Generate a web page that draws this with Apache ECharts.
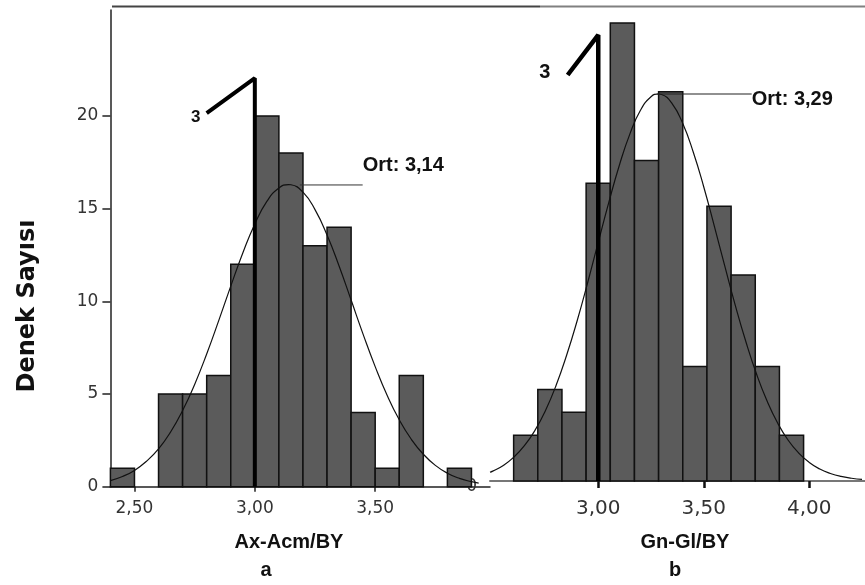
<!DOCTYPE html>
<html>
<head>
<meta charset="utf-8">
<script src="https://cdn.jsdelivr.net/npm/echarts@6/dist/echarts.min.js"></script>
<style>html,body{margin:0;padding:0;background:#fff}#c{width:865px;height:585px}</style>
</head>
<body>
<div id="c"></div>
<script>
// ---- Panel a: Ax-Acm/BY ----
const binStartA = [2.4, 2.5, 2.6, 2.7, 2.8, 2.9, 3.0, 3.1, 3.2, 3.3, 3.4, 3.5, 3.6, 3.7, 3.8];
const countsA   = [1, 0, 5, 5, 6, 12, 20, 18, 13, 14, 4, 1, 6, 0, 1];
const binWidthA = 0.1;
const curveXA = [2.40,2.45,2.50,2.55,2.60,2.65,2.70,2.75,2.80,2.85,2.90,2.95,3.00,3.05,3.10,3.14,3.15,3.20,3.25,3.30,3.35,3.40,3.45,3.50,3.55,3.60,3.65,3.70,3.75,3.80,3.85,3.90,3.93];
const curveYA = [0.33,0.55,0.88,1.37,2.04,2.95,4.11,5.52,7.16,8.96,10.82,12.61,14.18,15.39,16.12,16.30,16.29,15.89,14.95,13.58,11.91,10.07,8.22,6.48,4.92,3.61,2.56,1.75,1.15,0.73,0.45,0.27,0.19];
const meanLabelA = 'Ort: 3,14';
const xTicksA = [2.5, 3.0, 3.5];
const yTicksA = [0, 5, 10, 15, 20];
const refLineA = [[2.80, 20.15], [3.0, 22.04], [3.0, 0]];
const refLabelA = [2.755, 19.95];
const ortLineA = [[3.187, 16.28], [3.448, 16.28]];

// ---- Panel b: Gn-Gl/BY ----
const binStartB = [2.599, 2.7135, 2.828, 2.9425, 3.057, 3.1715, 3.286, 3.4005, 3.515, 3.6295, 3.744, 3.8585];
const countsB   = [2, 4, 3, 13, 20, 14, 17, 5, 12, 9, 5, 2];
const binWidthB = 0.1145;
const curveXB = [2.487,2.50,2.55,2.60,2.65,2.70,2.75,2.80,2.85,2.90,2.95,3.00,3.05,3.10,3.15,3.20,3.25,3.285,3.30,3.35,3.40,3.45,3.50,3.55,3.60,3.65,3.70,3.75,3.80,3.85,3.90,3.95,4.00,4.05,4.10,4.15,4.20,4.25];
const curveYB = [0.38,0.43,0.68,1.04,1.54,2.21,3.08,4.17,5.49,7.00,8.67,10.43,12.17,13.79,15.16,16.19,16.78,16.90,16.88,16.48,15.62,14.37,12.84,11.13,9.37,7.65,6.07,4.67,3.49,2.53,1.78,1.22,0.81,0.52,0.33,0.20,0.12,0.07];
const meanLabelB = 'Ort: 3,29';
const xTicksB = [3.0, 3.5, 4.0];
const yTicksB = [0];
const refLineB = [[2.855, 17.73], [3.0, 19.48], [3.0, 0]];
const refLabelB = [2.747, 17.84];
const ortLineB = [[3.277, 16.9], [3.727, 16.9]];

const fmt = v => v.toFixed(2).replace('.', ',');
const tickFont = 'DejaVu Sans';
const boldFont = 'Liberation Sans';

function histRender(params, api) {
  const x0 = api.value(0), x1 = api.value(1), y = api.value(2);
  if (!y) return null;
  const p0 = api.coord([x0, 0]);
  const p1 = api.coord([x1, y]);
  return {
    type: 'rect',
    shape: { x: p0[0], y: p1[1], width: p1[0] - p0[0], height: p0[1] - p1[1] },
    style: { fill: '#5b5b5b', stroke: '#111', lineWidth: 1.5 }
  };
}

function textSeries(xi, yi, point, text, size, offset) {
  return {
    type: 'scatter', xAxisIndex: xi, yAxisIndex: yi, symbolSize: 0, z: 5,
    itemStyle: { opacity: 1 },
    data: [point],
    label: Object.assign({ show: true, formatter: text, opacity: 1,
      fontFamily: boldFont, fontWeight: 'bold', fontSize: size, color: '#111' }, offset)
  };
}

const chart = echarts.init(document.getElementById('c'), null, { renderer: 'canvas' });
chart.setOption({
  animation: false,
  backgroundColor: '#fff',
  grid: [
    { left: 110.4, right: 375, top: 10, bottom: 98.3 },
    { left: 490, right: 0, top: 7, bottom: 104 }
  ],
  xAxis: [
    {
      gridIndex: 0, type: 'value', min: 2.4, max: 3.977,
      splitLine: { show: false },
      axisLine: { lineStyle: { color: '#222', width: 1.5 } },
      axisTick: { customValues: xTicksA, length: 5, lineStyle: { color: '#222', width: 1.5 } },
      axisLabel: { customValues: xTicksA, formatter: fmt, fontFamily: tickFont, fontSize: 17, color: '#333', margin: 13 }
    },
    {
      gridIndex: 1, type: 'value', min: 2.487, max: 4.264,
      splitLine: { show: false },
      axisLine: { lineStyle: { color: '#777', width: 2 } },
      axisTick: { customValues: xTicksB, length: 7, lineStyle: { color: '#111', width: 2.5 } },
      axisLabel: { customValues: xTicksB, formatter: fmt, fontFamily: tickFont, fontSize: 20, color: '#333', margin: 18 }
    }
  ],
  yAxis: [
    {
      gridIndex: 0, type: 'value', min: 0, max: 25.72,
      splitLine: { show: false },
      axisLine: { show: true, lineStyle: { color: '#222', width: 1.5 } },
      axisTick: { show: true, customValues: yTicksA, length: 8, lineStyle: { color: '#222', width: 1.5 } },
      axisLabel: { customValues: yTicksA, fontFamily: tickFont, fontSize: 17, color: '#333', margin: 12 }
    },
    {
      gridIndex: 1, type: 'value', min: 0, max: 20.7,
      splitLine: { show: false },
      axisLine: { show: false },
      axisTick: { show: false },
      axisLabel: { customValues: yTicksB, fontFamily: tickFont, fontSize: 17, color: '#333', margin: 13,
                   verticalAlign: 'top', lineHeight: 12 }
    }
  ],
  series: [
    { type: 'custom', xAxisIndex: 0, yAxisIndex: 0, renderItem: histRender, encode: { x: [0, 1], y: 2 },
      data: binStartA.map((s, i) => [s, s + binWidthA, countsA[i]]), z: 2 },
    { type: 'custom', xAxisIndex: 1, yAxisIndex: 1, renderItem: histRender, encode: { x: [0, 1], y: 2 },
      data: binStartB.map((s, i) => [s, s + binWidthB, countsB[i]]), z: 2 },
    { type: 'line', xAxisIndex: 0, yAxisIndex: 0, smooth: true, symbol: 'none', z: 3,
      lineStyle: { color: '#111', width: 1.2 }, data: curveXA.map((x, i) => [x, curveYA[i]]) },
    { type: 'line', xAxisIndex: 1, yAxisIndex: 1, smooth: true, symbol: 'none', z: 3,
      lineStyle: { color: '#111', width: 1.2 }, data: curveXB.map((x, i) => [x, curveYB[i]]) },
    { type: 'line', xAxisIndex: 0, yAxisIndex: 0, symbol: 'none', z: 4,
      lineStyle: { color: '#000', width: 4 }, data: refLineA },
    { type: 'line', xAxisIndex: 1, yAxisIndex: 1, symbol: 'none', z: 4,
      lineStyle: { color: '#000', width: 4.5 }, data: refLineB },
    { type: 'line', xAxisIndex: 0, yAxisIndex: 0, symbol: 'none', z: 4,
      lineStyle: { color: '#333', width: 1 }, data: ortLineA },
    { type: 'line', xAxisIndex: 1, yAxisIndex: 1, symbol: 'none', z: 4,
      lineStyle: { color: '#222', width: 1.2 }, data: ortLineB },
    textSeries(0, 0, [ortLineA[1][0], 17.32], meanLabelA, 20, { position: 'right', distance: 0 }),
    textSeries(1, 1, [ortLineB[1][0], ortLineB[1][1]], meanLabelB, 20, { position: 'right', distance: 0, offset: [0, 5] }),
    textSeries(0, 0, refLabelA, '3', 17, { position: 'inside' }),
    textSeries(1, 1, refLabelB, '3', 20, { position: 'inside' })
  ],
  graphic: [
    { type: 'line', shape: { x1: 112, y1: 6.5, x2: 540, y2: 6.5 }, style: { stroke: '#444', lineWidth: 2 } },
    { type: 'line', shape: { x1: 540, y1: 6.5, x2: 865, y2: 6.5 }, style: { stroke: '#808080', lineWidth: 2 } },
    { type: 'text', x: 28, y: 306, rotation: Math.PI / 2,
      style: { text: 'Denek Sayısı', font: 'bold 24px "DejaVu Sans"', fill: '#111', textAlign: 'center', textVerticalAlign: 'middle' } },
    { type: 'text', x: 289, y: 542,
      style: { text: 'Ax-Acm/BY', font: 'bold 20px "Liberation Sans"', fill: '#111', textAlign: 'center', textVerticalAlign: 'middle' } },
    { type: 'text', x: 266, y: 570,
      style: { text: 'a', font: 'bold 20px "Liberation Sans"', fill: '#111', textAlign: 'center', textVerticalAlign: 'middle' } },
    { type: 'text', x: 685, y: 542,
      style: { text: 'Gn-Gl/BY', font: 'bold 20px "Liberation Sans"', fill: '#111', textAlign: 'center', textVerticalAlign: 'middle' } },
    { type: 'text', x: 675, y: 570,
      style: { text: 'b', font: 'bold 20px "Liberation Sans"', fill: '#111', textAlign: 'center', textVerticalAlign: 'middle' } }
  ]
});
</script>
</body>
</html>
